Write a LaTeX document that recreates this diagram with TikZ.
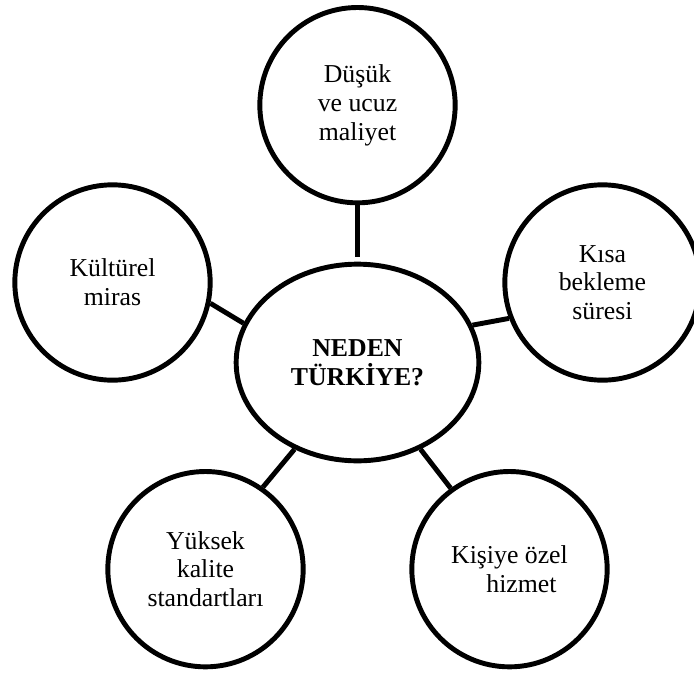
\documentclass[tikz,border=0pt]{standalone}
\usepackage{fontspec}
\setmainfont{Liberation Serif}
\usepackage{tikz}
\usetikzlibrary{shapes.geometric}
\tikzstyle{question} =
[ellipse, minimum width = 7.28cm, minimum height = 5.9cm, inner sep = 0pt,
text centered, align = center, draw=black, line width = 4.2pt,
font = \bfseries\fontsize{22}{24.5}\selectfont]
\tikzstyle{reason} =
[circle, minimum size = 5.86cm, inner sep = 0pt, text centered,
align = center, draw=black, line width = 4.2pt,
font = \fontsize{22}{24.5}\selectfont]
\tikzstyle{link} = [draw, line width = 4.2pt]
\begin{document}
\begin{tikzpicture}
  \useasboundingbox (-10.725,-9.435) rectangle (10.095,10.875);
  % center node
  \node [question] (why) {NEDEN\\TÜRKİYE?};
  % outer nodes
  \node [reason, above of=why, node distance=7.72cm] (cost)
   {Düşük\\ve ucuz\\maliyet};
  \node [reason, left of=why, node distance=7.35cm, shift=(up:2.4cm)] (culture)
   {Kültürel\\miras};
  \node [reason, right of=why, node distance=7.35cm, shift=(up:2.4cm)] (wait)
   {Kısa\\bekleme\\süresi};
  \node [reason, below of=why, node distance=6.2cm, shift=(left:4.56cm)] (quality)
   {Yüksek\\kalite\\standartları};
  \node [reason, below of=why, node distance=6.2cm, shift=(right:4.56cm)] (service)
   {Kişiye özel\\\hspace*{0.72cm}hizmet};
  % edges
  \path [link, shorten >=0.15cm] (cost) -- (why);
  \path [link] (culture.-12) -- (why.161);
  \path [link] (wait.-159) -- (why.18);
  \path [link] (quality.55) -- (why.234);
  \path [link] (service.126) -- (why.-54);
\end{tikzpicture}
\end{document}
